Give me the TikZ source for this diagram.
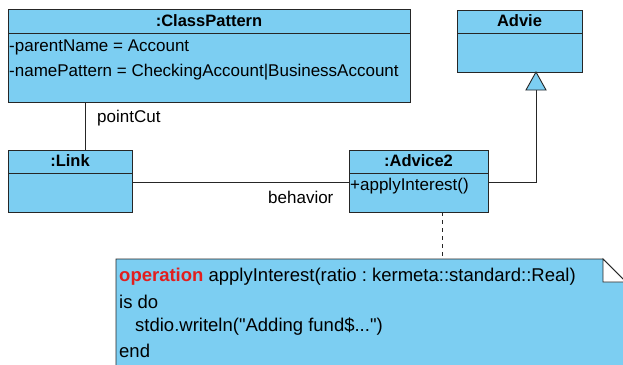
\documentclass[tikz,border=0pt]{standalone}
\usepackage{fontspec}
\setmainfont{Liberation Sans}[Ligatures=TeXOff]
\frenchspacing
\begin{document}
\begin{tikzpicture}[x=1pt,y=-1pt,
  umlfill/.style={fill=umlblue,draw=black!85,line width=0.9pt},
  title/.style={font=\bfseries\fontsize{16.5}{18}\selectfont,anchor=center,inner sep=0pt},
  attr/.style={font=\fontsize{17}{19}\selectfont,anchor=west,inner sep=0pt},
  code/.style={font=\fontsize{18.5}{20}\selectfont,anchor=west,inner sep=0pt},
  wire/.style={draw=black!85,line width=0.9pt}]
\definecolor{umlblue}{RGB}{124,206,242}
\definecolor{kwred}{RGB}{226,30,30}
\useasboundingbox (0,0) rectangle (623,364);
\clip (0,0) rectangle (623,364);
\fill[white] (0,0) rectangle (623,364);

% :ClassPattern
\draw[umlfill] (8,9) rectangle (410,102);
\draw[wire] (8,33) -- (410,33);
\node[title] (cp) at (209,21) {:ClassPattern};
\node[attr] (cpa) at (9,47) {-parentName = Account};
\node[attr] (cpb) at (9,72) {-namePattern = CheckingAccount|BusinessAccount};
\coordinate (cpbot) at (85,102);

% Advie
\draw[umlfill] (457,10) rectangle (582,72);
\draw[wire] (457,33) -- (582,33);
\node[title] (adv) at (519.5,21) {Advie};
\coordinate (advbot) at (536,72);

% :Link
\draw[umlfill] (8,150) rectangle (132,212);
\draw[wire] (8,173) -- (132,173);
\node[title] (lk) at (70,161) {:Link};
\coordinate (lktop) at (85,150);
\coordinate (lkright) at (132,182);

% :Advice2
\draw[umlfill] (349,150) rectangle (488,212);
\draw[wire] (349,173) -- (488,173);
\node[title] (a2) at (418.5,161) {:Advice2};
\node[attr] (a2op) at (350,186) {+applyInterest()};
\coordinate (a2left) at (349,182);
\coordinate (a2right) at (488,182);
\coordinate (a2bot) at (442,212);

% connectors
\draw[wire] (cpbot) -- (lktop);
\node[attr] (pc) at (97,118) {pointCut};
\draw[wire] (lkright) -- (a2left);
\node[attr] (bh) at (268,197) {behavior};
\coordinate (tri) at (536,90);
\draw[wire] (a2right) -- (536,182) -- (tri);
\draw[umlfill] (advbot) -- (526,90) -- (546,90) -- cycle;

% note
\coordinate (notetop) at (442,259);
\draw[wire,dashed,dash pattern=on 4pt off 4pt] (a2bot) -- (notetop);
\draw[umlfill] (116,380) -- (116,259) -- (603,259) -- (626,282) -- (626,380);
\draw[draw=black!85,line width=0.9pt,fill=white] (603,259) -- (603,282) -- (626,282) -- cycle;
\node[code] (n1) at (119,277) {\textcolor{kwred}{\bfseries operation} applyInterest(ratio : kermeta::standard::Real)};
\node[code] (n2) at (119,302) {is do};
\node[code] (n3) at (135,327) {stdio.writeln("Adding fund\$...")};
\node[code] (n4) at (119,351) {end};
\end{tikzpicture}
\end{document}
